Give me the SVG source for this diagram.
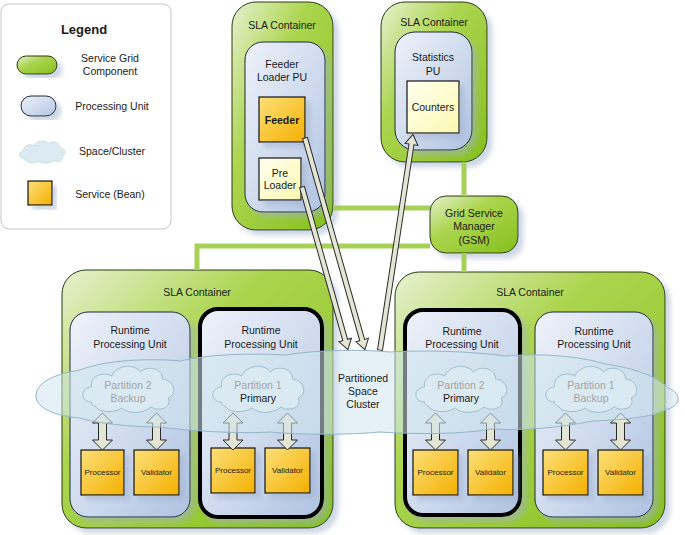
<svg xmlns="http://www.w3.org/2000/svg" width="685" height="535" viewBox="0 0 685 535">
<style>
.t{font-family:"Liberation Sans",Arial,sans-serif;font-size:10.5px;fill:#1a1a1a;text-anchor:middle}
.s{font-size:8px}
.b{font-weight:bold}
.gr{fill:#a4a4a4}
.sla{fill:url(#gGreen);stroke:#2a3a10;stroke-width:1}
.pu{fill:url(#gBlue);stroke:#1e2a3a;stroke-width:1}
.thick{stroke:#000;stroke-width:4}
.svc{fill:url(#gOrange);stroke:#111;stroke-width:1.2}
.pale{fill:url(#gPale);stroke:#111;stroke-width:1.2}
.cl{fill:#dcebf2;fill-opacity:0.85;stroke:#9dbccc;stroke-width:1}
.link{stroke:#a6d157;stroke-width:5;fill:none}
.ba{fill:#e3e5d5;stroke:#2a2a2a;stroke-width:1}
</style>
<defs>
<linearGradient id="gGreen" x1="0" y1="0" x2="1" y2="1">
<stop offset="0" stop-color="#e6f1d0"/>
<stop offset="0.38" stop-color="#acd54f"/>
<stop offset="1" stop-color="#86bf1c"/>
</linearGradient>
<linearGradient id="gBlue" x1="0" y1="0" x2="1" y2="1">
<stop offset="0" stop-color="#eef2fa"/>
<stop offset="0.6" stop-color="#cbd8ec"/>
<stop offset="1" stop-color="#aec2e2"/>
</linearGradient>
<linearGradient id="gOrange" x1="0" y1="0" x2="1" y2="1">
<stop offset="0" stop-color="#fde07a"/>
<stop offset="1" stop-color="#f4b000"/>
</linearGradient>
<linearGradient id="gPale" x1="0" y1="0" x2="1" y2="1">
<stop offset="0" stop-color="#fffff0"/>
<stop offset="1" stop-color="#fbf8b0"/>
</linearGradient>
<filter id="sh" x="-10%" y="-10%" width="130%" height="130%">
<feGaussianBlur in="SourceAlpha" stdDeviation="2.5"/>
<feOffset dx="5" dy="5" result="o"/>
<feFlood flood-color="#9fb0cc" flood-opacity="0.5"/>
<feComposite in2="o" operator="in"/>
<feMerge><feMergeNode/><feMergeNode in="SourceGraphic"/></feMerge>
</filter>
<path id="cloud" d="M12,40 C0,40 0,26 12,25 C10,14 24,9 33,14 C38,3 56,1 63,10 C70,3 86,6 86,17 C98,18 102,32 92,36 C96,46 82,50 74,45 C66,52 50,52 44,46 C34,52 18,50 16,44 C13,44 12,42 12,40 Z"/>
<path id="dbl" d="M0,413 L10,423 L4,423 L4,440 L10,440 L0,450 L-10,440 L-4,440 L-4,423 L-10,423 Z"/>
</defs>
<rect width="685" height="535" fill="#fff"/>

<g id="legend">
<rect x="1" y="4" width="170" height="225" rx="8" fill="#fff" stroke="#c4c4c4"/>
<text class="t b" x="84" y="34" style="font-size:13px">Legend</text>
<rect x="17" y="56" width="40" height="18" rx="9" class="sla" filter="url(#sh)"/>
<text class="t" x="110" y="62">Service Grid</text>
<text class="t" x="110" y="75">Component</text>
<rect x="21" y="96" width="35" height="20" rx="10" class="pu" filter="url(#sh)"/>
<text class="t" x="112" y="110">Processing Unit</text>
<use href="#cloud" transform="translate(18,139) scale(0.48,0.48)" fill="#dcebf2" stroke="#c8dde6" stroke-width="2"/>
<text class="t" x="112" y="155">Space/Cluster</text>
<rect x="28" y="181" width="24" height="24" class="svc" filter="url(#sh)"/>
<text class="t" x="110" y="198">Service (Bean)</text>
</g>

<g id="sla-feeder">
<rect x="232" y="2" width="101" height="228" rx="24" class="sla" filter="url(#sh)"/>
<text class="t" x="282" y="29">SLA Container</text>
</g>
<g id="pu-feeder">
<rect x="245" y="42" width="80" height="170" rx="18" class="pu" filter="url(#sh)"/>
<text class="t" x="282" y="68">Feeder</text>
<text class="t" x="282" y="81">Loader PU</text>
</g>
<g id="feeder">
<rect x="259" y="97" width="46" height="45" class="svc" filter="url(#sh)"/>
<text class="t b" x="282" y="124">Feeder</text>
</g>
<g id="preloader">
<rect x="259" y="158" width="42" height="42" class="pale" filter="url(#sh)"/>
<text class="t" x="280" y="177">Pre</text>
<text class="t" x="280" y="189">Loader</text>
</g>

<g id="sla-stats">
<rect x="381" y="2" width="106" height="160" rx="24" class="sla" filter="url(#sh)"/>
<text class="t" x="434" y="26">SLA Container</text>
</g>
<g id="pu-stats">
<rect x="395" y="32" width="77" height="118" rx="20" class="pu" filter="url(#sh)"/>
<text class="t" x="433" y="61">Statistics</text>
<text class="t" x="433" y="75">PU</text>
</g>
<g id="counters">
<rect x="407" y="81" width="52" height="52" class="pale" filter="url(#sh)"/>
<text class="t" x="433" y="111">Counters</text>
</g>

<g id="gsm">
<rect x="430" y="196" width="88" height="57" rx="16" class="sla" filter="url(#sh)"/>
<text class="t" x="474" y="217">Grid Service</text>
<text class="t" x="474" y="230">Manager</text>
<text class="t" x="474" y="244">(GSM)</text>
</g>

<g id="sla-left">
<rect x="62" y="270" width="271" height="258" rx="24" class="sla" filter="url(#sh)"/>
<text class="t" x="197" y="296">SLA Container</text>
</g>
<g id="pu-left-1">
<rect x="70" y="312" width="120" height="205" rx="18" class="pu" filter="url(#sh)"/>
<text class="t" x="130" y="334">Runtime</text>
<text class="t" x="130" y="348">Processing Unit</text>
</g>
<g id="proc-left-1">
<rect x="81" y="450" width="43" height="45" class="svc" filter="url(#sh)"/>
<text class="t s" x="102.5" y="475">Processor</text>
</g>
<g id="val-left-1">
<rect x="134" y="450" width="45" height="45" class="svc" filter="url(#sh)"/>
<text class="t s" x="156.5" y="475">Validator</text>
</g>
<g id="pu-left-2">
<rect x="200" y="309" width="122" height="208" rx="18" class="pu thick" filter="url(#sh)"/>
<text class="t" x="261" y="334">Runtime</text>
<text class="t" x="261" y="348">Processing Unit</text>
</g>
<g id="proc-left-2">
<rect x="211" y="448" width="44" height="45" class="svc" filter="url(#sh)"/>
<text class="t s" x="233" y="473">Processor</text>
</g>
<g id="val-left-2">
<rect x="265" y="448" width="45" height="45" class="svc" filter="url(#sh)"/>
<text class="t s" x="287.5" y="473">Validator</text>
</g>

<g id="sla-right">
<rect x="395" y="272" width="270" height="256" rx="24" class="sla" filter="url(#sh)"/>
<text class="t" x="530" y="296">SLA Container</text>
</g>
<g id="pu-right-1">
<rect x="405" y="310" width="115" height="205" rx="18" class="pu thick" filter="url(#sh)"/>
<text class="t" x="462" y="335">Runtime</text>
<text class="t" x="462" y="348">Processing Unit</text>
</g>
<g id="proc-right-1">
<rect x="413" y="450" width="45" height="45" class="svc" filter="url(#sh)"/>
<text class="t s" x="435.5" y="475">Processor</text>
</g>
<g id="val-right-1">
<rect x="468" y="450" width="45" height="45" class="svc" filter="url(#sh)"/>
<text class="t s" x="490.5" y="475">Validator</text>
</g>
<g id="pu-right-2">
<rect x="535" y="312" width="118" height="205" rx="18" class="pu" filter="url(#sh)"/>
<text class="t" x="594" y="335">Runtime</text>
<text class="t" x="594" y="348">Processing Unit</text>
</g>
<g id="proc-right-2">
<rect x="543" y="450" width="45" height="45" class="svc" filter="url(#sh)"/>
<text class="t s" x="565.5" y="475">Processor</text>
</g>
<g id="val-right-2">
<rect x="598" y="450" width="45" height="45" class="svc" filter="url(#sh)"/>
<text class="t s" x="620.5" y="475">Validator</text>
</g>

<g id="connectors">
<path class="link" d="M464,162 V196 M333,208 H430 M197,270 V246 H430 M464,253 V272"/>
<use href="#dbl" x="102.5" class="ba"/>
<use href="#dbl" x="156.5" class="ba"/>
<use href="#dbl" x="233" class="ba"/>
<use href="#dbl" x="287.5" class="ba"/>
<use href="#dbl" x="435.5" class="ba"/>
<use href="#dbl" x="490.5" class="ba"/>
<use href="#dbl" x="565.5" class="ba"/>
<use href="#dbl" x="620.5" class="ba"/>
</g>

<g id="cluster">
<path d="M36,396 C36,382 55,374 80,370 C105,360 150,358 180,361 C210,354 250,353 285,355 C315,350 360,349 390,352 C420,350 470,351 505,356 C540,353 580,356 605,364 C635,368 660,378 668,388 C682,393 682,406 665,410 C650,418 620,420 592,421 C560,428 520,431 490,429 C460,435 410,434 380,432 C350,435 300,435 270,432 C240,434 190,431 160,427 C130,427 95,423 80,418 C55,416 36,408 36,396 Z" fill="#cfe5ee" fill-opacity="0.55" stroke="#93b6c8" stroke-width="1"/>
<text class="t" x="363" y="382">Partitioned</text>
<text class="t" x="363" y="395">Space</text>
<text class="t" x="363" y="408">Cluster</text>
</g>
<g id="partition-2-backup">
<use href="#cloud" class="cl" transform="translate(80,362) scale(0.96,1)"/>
<text class="t gr" x="128" y="389">Partition 2</text>
<text class="t gr" x="128" y="402">Backup</text>
</g>
<g id="partition-1-primary">
<use href="#cloud" class="cl" transform="translate(210,362) scale(0.96,1)"/>
<text class="t gr" x="258" y="389">Partition 1</text>
<text class="t" x="258" y="402">Primary</text>
</g>
<g id="partition-2-primary">
<use href="#cloud" class="cl" transform="translate(413,362) scale(0.96,1)"/>
<text class="t gr" x="461" y="389">Partition 2</text>
<text class="t" x="461" y="402">Primary</text>
</g>
<g id="partition-1-backup">
<use href="#cloud" class="cl" transform="translate(543,362) scale(0.96,1)"/>
<text class="t gr" x="591" y="389">Partition 1</text>
<text class="t gr" x="591" y="402">Backup</text>
</g>

<g id="flows">
<polygon class="ba" transform="translate(305,138) rotate(-15.8)" points="-2.5,0 2.5,0 2.5,210 6.5,210 0,220 -6.5,210 -2.5,210"/>
<polygon class="ba" transform="translate(302,187) rotate(-15.76)" points="-2.5,0 2.5,0 2.5,159 6.5,159 0,169 -6.5,159 -2.5,159"/>
<polygon class="ba" transform="translate(380,350) rotate(188.7)" points="-2.5,0 2.5,0 2.5,208 6.5,208 0,218 -6.5,208 -2.5,208"/>
</g>
</svg>
